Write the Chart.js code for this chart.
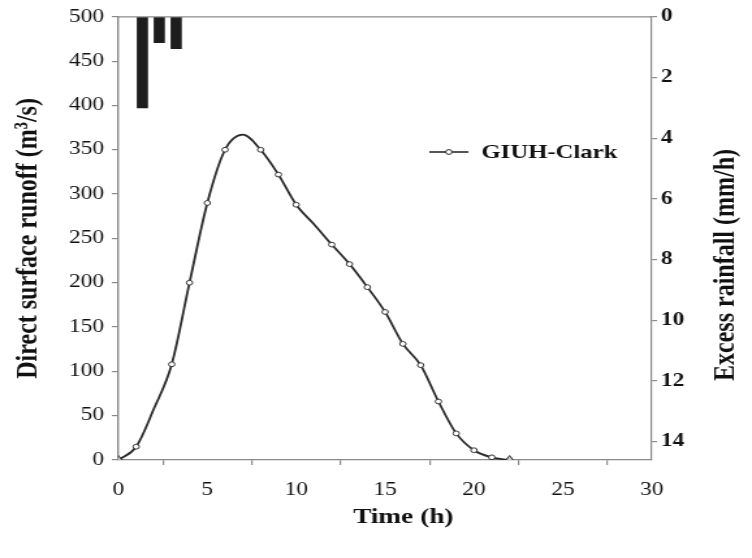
<!DOCTYPE html>
<html>
<head>
<meta charset="utf-8">
<script src="https://cdn.jsdelivr.net/npm/chart.js@4"></script>
<style>
  html, body { margin: 0; padding: 0; background: #fff; overflow: hidden; }
  #wrap { width: 752px; height: 558px; overflow: hidden; background: #fff; }
  /* the figure is laid out narrow and widened to its printed proportions */
  #c { display: block; transform: scaleX(1.301); transform-origin: 0 0; }
</style>
</head>
<body>
<div id="wrap"><canvas id="c" width="578" height="558"></canvas></div>
<script>
// Direct surface runoff hydrograph (GIUH-Clark), hourly values
const timeH = [0, 1, 2, 3, 4, 5, 6, 7, 8, 9, 10, 11, 12, 13, 14, 15, 16, 17, 18, 19, 20, 21, 22];
const runoff = [0, 15, 58, 108, 200, 290, 350, 367, 350, 322, 288, 266, 243, 221, 195, 167, 131, 107, 66, 30, 11, 3, 0];

// Excess rainfall hyetograph (mm/h), hanging from the top axis
const rainTimeH = [1.35, 2.3, 3.25];
const excessRain = [3.0, 0.85, 1.05];

// Observed start / end of the runoff event
const obsTimeH = [0, 22];
const obsRunoff = [0, 0];

// Axis ticks
const xTicks = [0, 5, 10, 15, 20, 25, 30];
const runoffTicks = [0, 50, 100, 150, 200, 250, 300, 350, 400, 450, 500];
const rainTicks = [0, 2, 4, 6, 8, 10, 12, 14];
const rainAxisMax = 14.6;

const SERIF = '"Liberation Serif", "Times New Roman", serif';
const AXIS = '#8a8a8a';
const INK = '#111';
const unmarked = new Set([2, 7, 11]);

// top edge of the plot frame
const frameTop = {
  id: 'frameTop',
  afterDraw(chart) {
    const { ctx, chartArea: a } = chart;
    ctx.save();
    ctx.strokeStyle = AXIS;
    ctx.lineWidth = 1.2;
    ctx.beginPath();
    ctx.moveTo(a.left, a.top);
    ctx.lineTo(a.right, a.top);
    ctx.stroke();
    ctx.restore();
  }
};

// single-entry legend placed inside the plot
const legendItem = {
  id: 'legendItem',
  afterDraw(chart) {
    const ds = chart.data.datasets[1];
    const { ctx } = chart;
    const y = 152;
    ctx.save();
    ctx.strokeStyle = ds.borderColor;
    ctx.lineWidth = 1.6;
    ctx.beginPath();
    ctx.moveTo(330, y);
    ctx.lineTo(360, y);
    ctx.stroke();
    ctx.fillStyle = '#fff';
    ctx.lineWidth = 1;
    ctx.beginPath();
    ctx.arc(345, y, 2.4, 0, Math.PI * 2);
    ctx.fill();
    ctx.stroke();
    ctx.fillStyle = INK;
    ctx.font = 'bold 19px ' + SERIF;
    ctx.textBaseline = 'middle';
    ctx.textAlign = 'left';
    ctx.fillText(ds.label, 370, y + 1);
    ctx.restore();
  }
};

// axis titles for the time axis and the rainfall axis (bottom-to-top reading)
const sideTitles = {
  id: 'sideTitles',
  afterDraw(chart) {
    const { ctx } = chart;
    ctx.save();
    ctx.fillStyle = INK;
    ctx.textAlign = 'center';
    ctx.textBaseline = 'middle';
    ctx.font = 'bold 21px ' + SERIF;
    ctx.fillText(chart.scales.x.options.title.text, 310, 518);
    ctx.font = 'bold 24px ' + SERIF;
    ctx.translate(557.5, 265);
    ctx.rotate(-Math.PI / 2);
    ctx.fillText(chart.scales.y2.options.title.text, 0, 0);
    ctx.restore();
  }
};

new Chart(document.getElementById('c'), {
  data: {
    datasets: [
      {
        type: 'bar',
        label: 'Excess rainfall',
        data: rainTimeH.map((t, i) => ({ x: t, y: excessRain[i] })),
        xAxisID: 'x',
        yAxisID: 'y2',
        backgroundColor: '#1d1d1d',
        borderWidth: 0,
        barThickness: 8,
        grouped: false,
        order: 3
      },
      {
        type: 'line',
        label: 'GIUH-Clark',
        data: timeH.map((t, i) => ({ x: t, y: runoff[i] })),
        xAxisID: 'x',
        yAxisID: 'y',
        borderColor: '#2b2b2b',
        borderWidth: 1.8,
        cubicInterpolationMode: 'monotone',
        fill: false,
        pointStyle: 'circle',
        pointRadius: (c) => unmarked.has(timeH[c.dataIndex]) ? 0 : 2.4,
        pointBackgroundColor: '#fff',
        pointBorderColor: '#333',
        pointBorderWidth: 1,
        order: 1
      },
      {
        type: 'scatter',
        label: 'Observed',
        data: obsTimeH.map((t, i) => ({ x: t, y: obsRunoff[i] })),
        xAxisID: 'x',
        yAxisID: 'y',
        pointStyle: 'triangle',
        pointRadius: 4.5,
        pointBackgroundColor: '#cfcfcf',
        pointBorderColor: '#333',
        pointBorderWidth: 1,
        order: 0
      }
    ]
  },
  options: {
    responsive: false,
    animation: false,
    devicePixelRatio: 1,
    layout: { padding: { top: 14, left: 0, right: 0, bottom: 0 } },
    plugins: { legend: { display: false }, tooltip: { enabled: false } },
    scales: {
      x: {
        type: 'linear',
        position: 'bottom',
        min: xTicks[0],
        max: xTicks[xTicks.length - 1],
        offset: false,
        afterBuildTicks: (s) => { s.ticks = xTicks.map(v => ({ value: v })); },
        ticks: { font: { family: SERIF, size: 18 }, color: INK, padding: 14, maxRotation: 0 },
        grid: { drawOnChartArea: false, drawTicks: true, tickLength: 5, color: AXIS, lineWidth: 1.2 },
        border: { display: true, color: AXIS, width: 1.2 },
        title: { display: false, text: 'Time (h)' },
        afterFit: (s) => { s.height = 98; }
      },
      y: {
        type: 'linear',
        position: 'left',
        min: runoffTicks[0],
        max: runoffTicks[runoffTicks.length - 1],
        afterBuildTicks: (s) => { s.ticks = runoffTicks.map(v => ({ value: v })); },
        ticks: { font: { family: SERIF, size: 18 }, color: INK, padding: 6 },
        grid: { drawOnChartArea: false, drawTicks: true, tickLength: 5, color: AXIS, lineWidth: 1.2 },
        border: { display: true, color: AXIS, width: 1.4 },
        title: {
          display: true, text: 'Direct surface runoff (m³/s)', color: INK,
          font: { family: SERIF, size: 24, weight: 'bold' },
          padding: { top: 7.5, bottom: 0 }
        },
        afterFit: (s) => { s.width = 91; }
      },
      y2: {
        type: 'linear',
        position: 'right',
        reverse: true,
        min: 0,
        max: rainAxisMax,
        afterBuildTicks: (s) => { s.ticks = rainTicks.map(v => ({ value: v })); },
        ticks: { font: { family: SERIF, size: 18, weight: 'bold' }, color: INK, padding: 3 },
        grid: { drawOnChartArea: false, drawTicks: true, tickLength: 4, color: AXIS, lineWidth: 1.2 },
        border: { display: true, color: AXIS, width: 1.2 },
        title: { display: false, text: 'Excess rainfall (mm/h)' },
        afterFit: (s) => { s.width = 77; }
      }
    }
  },
  plugins: [frameTop, legendItem, sideTitles]
});
</script>
</body>
</html>
